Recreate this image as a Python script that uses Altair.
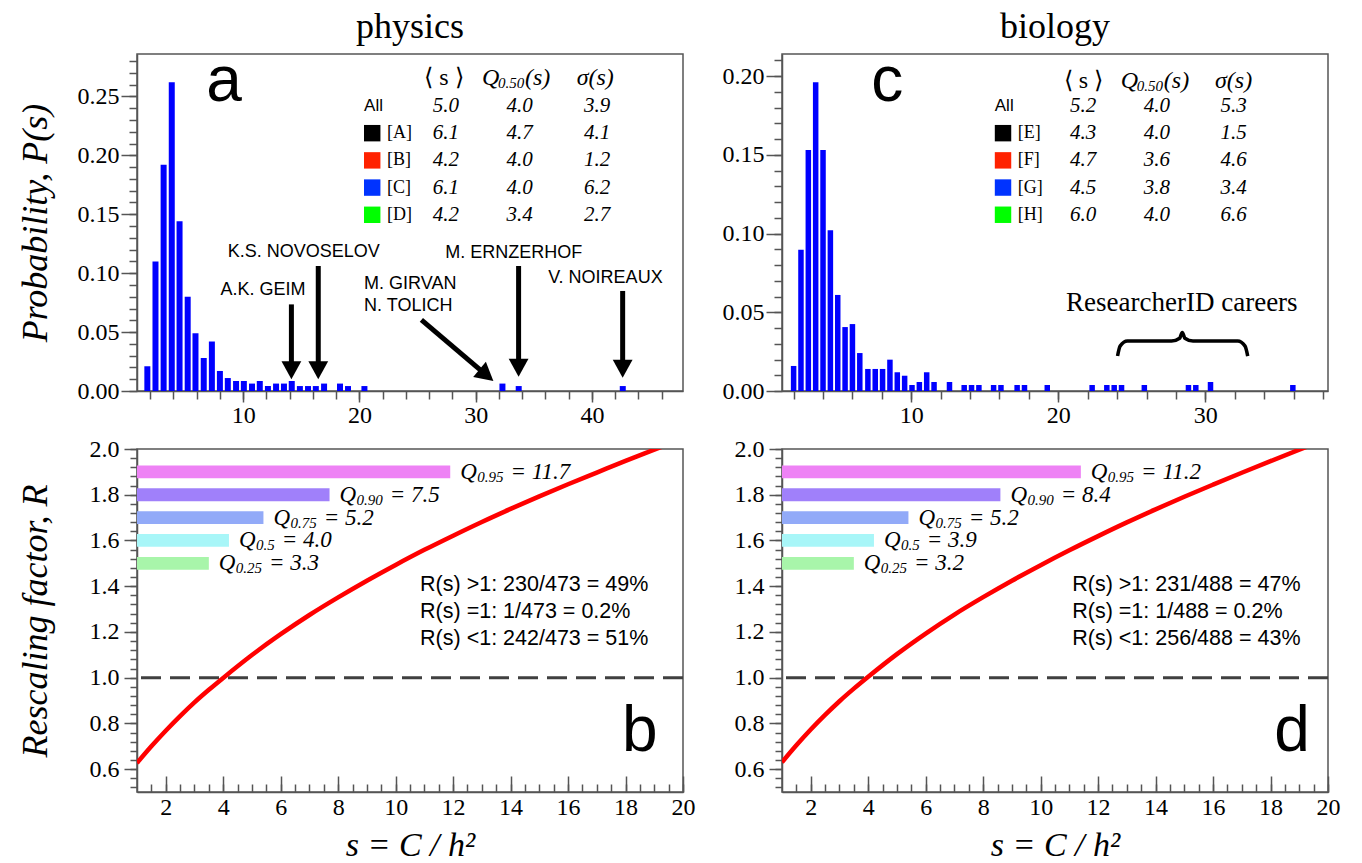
import math
import altair as alt
import numpy as np
import pandas as pd

SERIF = "Liberation Serif"
SANS = "Liberation Sans"

# ---------------- data ----------------
A_S = [1.76, 2.46, 3.16, 3.86, 4.53, 5.23, 5.90, 6.61, 7.31, 8.00,
       8.68, 9.39, 10.06, 10.76, 11.43, 12.13, 12.83, 13.51, 14.18, 14.88,
       15.58, 16.25, 16.96, 18.33, 19.02, 20.43, 32.3, 33.7, 42.65]
A_P = [0.021, 0.110, 0.192, 0.262, 0.144, 0.080, 0.049, 0.028, 0.042, 0.017,
       0.011, 0.0085, 0.0085, 0.0063, 0.0085, 0.0042, 0.0063, 0.0063, 0.0085, 0.0042,
       0.0042, 0.0042, 0.0063, 0.0063, 0.0042, 0.0042, 0.0063, 0.0042, 0.0042]
C_S = [2.0, 2.5, 3.0, 3.5, 4.0, 4.5, 5.0, 5.5, 6.0, 6.5,
       7.05, 7.55, 8.05, 8.55, 9.05, 9.55, 10.05, 10.55, 11.05, 11.55,
       12.6, 13.6, 14.1, 14.6, 15.6, 16.1, 17.2, 17.7, 19.25, 22.3,
       23.3, 23.8, 24.3, 25.85, 28.85, 29.35, 30.35, 35.95]
C_P = [0.0159, 0.0897, 0.153, 0.196, 0.153, 0.102, 0.061, 0.0406, 0.0425, 0.0241,
       0.014, 0.014, 0.014, 0.0199, 0.0119, 0.0097, 0.0038, 0.0057, 0.0119, 0.0057,
       0.0057, 0.0038, 0.0038, 0.0038, 0.0038, 0.0038, 0.0038, 0.0038, 0.0038, 0.0038,
       0.0038, 0.0038, 0.0038, 0.0038, 0.0038, 0.0038, 0.0057, 0.0038]

A_GROUPS = ["All", "[A]", "[B]", "[C]", "[D]"]
A_MEAN = ["5.0", "6.1", "4.2", "6.1", "4.2"]
A_MEDIAN = ["4.0", "4.7", "4.0", "4.0", "3.4"]
A_SIGMA = ["3.9", "4.1", "1.2", "6.2", "2.7"]
C_GROUPS = ["All", "[E]", "[F]", "[G]", "[H]"]
C_MEAN = ["5.2", "4.3", "4.7", "4.5", "6.0"]
C_MEDIAN = ["4.0", "4.0", "3.6", "3.8", "4.0"]
C_SIGMA = ["5.3", "1.5", "4.6", "3.4", "6.6"]
GROUP_COLORS = ["#000000", "#000000", "#FF2200", "#0033FF", "#00FF00"]

NAMES_CENTER = ["A.K. GEIM", "K.S. NOVOSELOV", "M. ERNZERHOF", "V. NOIREAUX"]
NAMES_LEFT = ["M. GIRVAN", "N. TOLICH"]

QUANT_LEVELS = ["0.95", "0.90", "0.75", "0.5", "0.25"]
QUANT_R = [1.9, 1.8, 1.7, 1.6, 1.5]
QUANT_COLORS = ["#EE82F5", "#A080FA", "#92AAF8", "#A8F6F8", "#A8F5AA"]
B_Q_END = [11.9, 7.7, 5.4, 4.2, 3.5]
B_Q_LABEL = ["11.7", "7.5", "5.2", "4.0", "3.3"]
D_Q_END = [11.4, 8.6, 5.4, 4.2, 3.5]
D_Q_LABEL = ["11.2", "8.4", "5.2", "3.9", "3.2"]

CURVE_S = [1, 1.5, 2, 2.5, 3, 3.5, 4, 5, 6, 7, 8, 9, 10, 11, 12, 13, 14, 15, 16, 17, 18, 19, 20]
B_R = [0.627, 0.700, 0.768, 0.832, 0.892, 0.947, 0.999, 1.099, 1.190, 1.274, 1.351, 1.424,
       1.493, 1.559, 1.621, 1.681, 1.738, 1.793, 1.846, 1.897, 1.948, 1.997, 2.046]
D_R = [0.630, 0.704, 0.773, 0.837, 0.897, 0.952, 1.004, 1.103, 1.193, 1.276, 1.352, 1.424,
       1.492, 1.557, 1.619, 1.679, 1.736, 1.791, 1.844, 1.896, 1.947, 1.997, 2.046]

B_STATS = ["R(s) >1: 230/473 = 49%", "R(s) =1: 1/473 = 0.2%", "R(s) <1: 242/473 = 51%"]
D_STATS = ["R(s) >1: 231/488 = 47%", "R(s) =1: 1/488 = 0.2%", "R(s) <1: 256/488 = 43%"]

# ---------------- geometry ----------------
W = 546
HT = 337
HB = 343
A_XDOM = [1.3, 47.4]
A_YDOM = [0.0, 0.286]
C_XDOM = [1.55, 38.0]
C_YDOM = [0.0, 0.214]
B_XDOM = [1.0, 20.0]
B_YDOM = [0.5, 2.0]


def scale(dom):
    return alt.Scale(domain=dom, nice=False, zero=False)


def fl(arr):
    return [float(v) for v in arr]


def minor_axis(values, orient, size, offset=0):
    kw = dict(values=fl(values), orient=orient, tickSize=size, labels=False, domain=False,
              title=None)
    if offset:
        kw["offset"] = offset
    return alt.Axis(**kw)


def major_axis(values, orient, size, pad, fmt, title=None, **extra):
    kw = dict(values=fl(values), orient=orient, tickSize=size, labelPadding=pad, format=fmt,
              labelOverlap=False, labelFlush=False)
    kw["title"] = title if title else None
    kw.update(extra)
    return alt.Axis(**kw)


def ytitle_props(h):
    return dict(titleX=-102, titleY=h / 2, titleAngle=270, titleAlign="center",
                titleBaseline="middle")


def tlayer(xs, ys, texts, sx, sy, **mk):
    df = pd.DataFrame({"x": xs, "y": ys, "t": texts})
    mk.setdefault("color", "black")
    return alt.Chart(df).mark_text(**mk).encode(
        x=alt.X("x:Q", scale=sx, axis=None),
        y=alt.Y("y:Q", scale=sy, axis=None),
        text=alt.Text("t:N"))


def table_layers(groups, means, meds, sds, pos, sx, sy):
    n = len(groups)
    ys = [pos["y0"] - i * pos["step"] for i in range(n)]
    L = []
    L.append(tlayer([pos["x_all"]], [ys[0]], [groups[0]], sx, sy, font=SANS, fontSize=17,
                    align="left", baseline="middle"))
    sq = pd.DataFrame({"x": [pos["x_sq"]] * (n - 1), "y": ys[1:], "c": GROUP_COLORS[1:n]})
    L.append(alt.Chart(sq).mark_point(shape="square", filled=True, size=270, opacity=1).encode(
        x=alt.X("x:Q", scale=sx, axis=None), y=alt.Y("y:Q", scale=sy, axis=None),
        color=alt.Color("c:N", scale=None)))
    L.append(tlayer([pos["x_br"]] * (n - 1), ys[1:], groups[1:], sx, sy, font=SERIF, fontSize=18,
                    align="left", baseline="middle"))
    for key, vals in (("x_mean", means), ("x_med", meds), ("x_sd", sds)):
        L.append(tlayer([pos[key]] * n, ys, vals, sx, sy, font=SERIF, fontSize=21,
                        fontStyle="italic", align="center", baseline="middle"))
    hy = pos["hdr_y"]
    L.append(tlayer([pos["hdr_s"]], [hy], ["⟨ s ⟩"], sx, sy, font=SERIF, fontSize=24,
                    align="center", baseline="middle"))
    L.append(tlayer([pos["hdr_q"]], [hy], ["Q"], sx, sy, font=SERIF, fontSize=24,
                    fontStyle="italic", align="left", baseline="middle"))
    L.append(tlayer([pos["hdr_q"]], [hy], ["0.50"], sx, sy, font=SERIF, fontSize=15, dx=16, dy=5,
                    fontStyle="italic", align="left", baseline="middle"))
    L.append(tlayer([pos["hdr_q"]], [hy], ["(s)"], sx, sy, font=SERIF, fontSize=24, dx=43,
                    fontStyle="italic", align="left", baseline="middle"))
    L.append(tlayer([pos["hdr_sig"]], [hy], ["σ(s)"], sx, sy, font=SERIF, fontSize=24,
                    fontStyle="italic", align="center", baseline="middle"))
    return L


def arrow_layers(arrows, sx, sy, kx, ky):
    rows = []
    for x0, y0, x1, y1 in arrows:
        dxp = (x1 - x0) * kx
        dyp = -(y1 - y0) * ky
        ln = math.hypot(dxp, dyp)
        ux, uy = dxp / ln, dyp / ln
        rows.append(dict(x0=x0, y0=y0, x1=x1, y1=y1,
                         ex=x1 - 10 * ux / kx, ey=y1 + 10 * uy / ky,
                         ang=(math.degrees(math.atan2(dyp, dxp)) - 90) % 360))
    df = pd.DataFrame(rows)
    shaft = alt.Chart(df).mark_rule(color="black", strokeWidth=5).encode(
        x=alt.X("x0:Q", scale=sx, axis=None), y=alt.Y("y0:Q", scale=sy, axis=None),
        x2="ex:Q", y2="ey:Q")
    head = alt.Chart(df).mark_point(shape="M0,0L-0.55,-1L0.55,-1Z", filled=True, size=1296,
                                    color="black", opacity=1).encode(
        x=alt.X("x1:Q", scale=sx, axis=None), y=alt.Y("y1:Q", scale=sy, axis=None),
        angle=alt.Angle("ang:Q", scale=None))
    return [shaft, head]


def hist_panel(s, p, xdom, ydom, xmaj, xmin, ymaj, ymin, ytitle, barsize):
    sx, sy = scale(xdom), scale(ydom)
    df = pd.DataFrame({"s": s, "p": p})
    yextra = ytitle_props(HT) if ytitle else {}
    bars = alt.Chart(df).mark_bar(size=barsize, color="#0000FF", orient="vertical").encode(
        x=alt.X("s:Q", scale=sx, axis=major_axis(xmaj, "bottom", 11, 1, "d")),
        y=alt.Y("p:Q", scale=sy, axis=major_axis(ymaj, "left", 16, 2, ".2f", ytitle, **yextra)))
    carrier = alt.Chart(df).mark_point(opacity=0).encode(
        x=alt.X("s:Q", scale=sx, axis=minor_axis(xmin, "bottom", 8)),
        y=alt.Y("p:Q", scale=sy, axis=minor_axis(ymin, "left", 8)))
    return sx, sy, [bars, carrier]


def panel_title(text):
    return alt.TitleParams(text, frame="group", anchor="middle", baseline="alphabetic",
                           offset=-24, fontSize=36, font=SERIF, fontWeight="normal",
                           color="black")


# ---------------- panel a ----------------
sxa, sya, base_a = hist_panel(A_S, A_P, A_XDOM, A_YDOM, [10, 20, 30, 40], np.arange(2, 47, 2),
                              np.round(np.arange(0, 0.2501, 0.05), 2),
                              np.round(np.arange(0, 0.2801, 0.01), 2), "Probability, P(s)", 6)
kxa = W / (A_XDOM[1] - A_XDOM[0])
kya = HT / (A_YDOM[1] - A_YDOM[0])
tab_a = table_layers(A_GROUPS, A_MEAN, A_MEDIAN, A_SIGMA,
                     dict(x_all=20.4, x_sq=21.1, x_br=22.37, x_mean=27.44, x_med=33.78, x_sd=40.45,
                          hdr_y=0.266, y0=0.2419, step=0.02309, hdr_s=27.27, hdr_q=30.54,
                          hdr_sig=40.28), sxa, sya)
names_c = tlayer([11.71, 15.22, 33.28, 41.16], [0.0856, 0.118, 0.1174, 0.0962], NAMES_CENTER,
                 sxa, sya, font=SANS, fontSize=18, align="center", baseline="middle")
names_l = tlayer([20.4, 20.4], [0.0905, 0.0722], NAMES_LEFT, sxa, sya, font=SANS, fontSize=18,
                 align="left", baseline="middle")
arr_a = arrow_layers([(14.15, 0.0735, 14.15, 0.0099),
                      (16.46, 0.1061, 16.46, 0.0099),
                      (25.33, 0.0603, 31.52, 0.0085),
                      (33.69, 0.1061, 33.69, 0.0121),
                      (42.64, 0.0849, 42.64, 0.0113)], sxa, sya, kxa, kya)
let_a = tlayer([8.35], [0.246], ["a"], sxa, sya, font=SANS, fontSize=64, align="center",
               baseline="alphabetic")
panel_a = alt.layer(*base_a, *tab_a, names_c, names_l, *arr_a, let_a).resolve_axis(
    x="independent", y="independent").properties(width=W, height=HT,
                                                 title=panel_title("physics"))

# ---------------- panel c ----------------
sxc, syc, base_c = hist_panel(C_S, C_P, C_XDOM, C_YDOM, [10, 20, 30], np.arange(2, 39, 2),
                              np.round(np.arange(0, 0.2001, 0.05), 2),
                              np.round(np.arange(0, 0.2101, 0.01), 2), None, 5.5)
tab_c = table_layers(C_GROUPS, C_MEAN, C_MEDIAN, C_SIGMA,
                     dict(x_all=15.68, x_sq=16.24, x_br=17.24, x_mean=21.69, x_med=26.7, x_sd=31.92,
                          hdr_y=0.1968, y0=0.181, step=0.01727, hdr_s=21.71, hdr_q=24.25,
                          hdr_sig=31.92), sxc, syc)
rid = tlayer([28.4], [0.056], ["ResearcherID careers"], sxc, syc, font=SERIF, fontSize=27,
             align="center", baseline="middle")
brace = alt.Chart(pd.DataFrame({
    "x": [24.03, 24.2, 24.7, 27.7, 28.25, 28.43, 28.61, 29.16, 32.2, 32.7, 32.88],
    "y": [0.0222, 0.0285, 0.0317, 0.0317, 0.0335, 0.0372, 0.0335, 0.0317, 0.0317, 0.0285, 0.0222]})
).mark_line(color="black", strokeWidth=3.5, interpolate="monotone").encode(
    x=alt.X("x:Q", scale=sxc, axis=None), y=alt.Y("y:Q", scale=syc, axis=None))
let_c = tlayer([8.36], [0.184], ["c"], sxc, syc, font=SANS, fontSize=64, align="center",
               baseline="alphabetic")
panel_c = alt.layer(*base_c, *tab_c, rid, brace, let_c).resolve_axis(
    x="independent", y="independent").properties(width=W, height=HT,
                                                 title=panel_title("biology"))


# ---------------- panels b, d ----------------
def rescale_panel(q_end, q_label, curve_r, stats, stats_x, letter, letter_x, ytitle):
    sx, sy = scale(B_XDOM), scale(B_YDOM)
    kb = W / (B_XDOM[1] - B_XDOM[0])
    qdf = pd.DataFrame({"lev": QUANT_LEVELS, "end": q_end, "lab": q_label, "r": QUANT_R,
                        "col": QUANT_COLORS})
    rects = alt.Chart(qdf).transform_calculate(
        x0=f"{B_XDOM[0]}", ylo="datum.r - 0.028", yhi="datum.r + 0.028"
    ).mark_rect().encode(
        x=alt.X("x0:Q", scale=sx, axis=None), x2="end:Q",
        y=alt.Y("ylo:Q", scale=sy, axis=None), y2="yhi:Q",
        color=alt.Color("col:N", scale=None))
    base_q = alt.Chart(qdf).transform_calculate(
        q="'Q'", eq="'= ' + datum.lab",
        eqx=f"datum.end + (34 + (length(datum.lev) - 1) * 7.5 + 3.75) / {kb}")
    common = dict(font=SERIF, fontStyle="italic", align="left", baseline="middle", color="black")
    q1 = base_q.mark_text(dx=10, fontSize=23, **common).encode(
        x=alt.X("end:Q", scale=sx, axis=None), y=alt.Y("r:Q", scale=sy, axis=None), text="q:N")
    q2 = base_q.mark_text(dx=27, dy=5, fontSize=15, **common).encode(
        x=alt.X("end:Q", scale=sx, axis=None), y=alt.Y("r:Q", scale=sy, axis=None), text="lev:N")
    q3 = base_q.mark_text(fontSize=23, **common).encode(
        x=alt.X("eqx:Q", scale=sx, axis=None), y=alt.Y("r:Q", scale=sy, axis=None), text="eq:N")
    dash = alt.Chart(pd.DataFrame({"y": [1.0]})).mark_rule(
        color="#404040", strokeWidth=3, strokeDash=[20, 9]).encode(
        y=alt.Y("y:Q", scale=sy, axis=None))
    cdf = pd.DataFrame({"s": CURVE_S, "r": curve_r})
    yextra = ytitle_props(HB) if ytitle else {}
    curve = alt.Chart(cdf).mark_line(
        color="#FF0000", strokeWidth=4.5, clip=True, interpolate="monotone").encode(
        x=alt.X("s:Q", scale=sx, axis=major_axis(
            np.arange(2, 21, 2), "bottom", 0, 3, "d", "s = C / h²", ticks=False,
            titleX=W / 2, titleY=53, titleAlign="center", titleBaseline="middle",
            titleFontSize=34)),
        y=alt.Y("r:Q", scale=sy, axis=major_axis(
            np.round(np.arange(0.6, 2.001, 0.2), 1), "left", 13, 5, ".1f", ytitle, **yextra)))
    carrier1 = alt.Chart(cdf).mark_point(opacity=0).encode(
        x=alt.X("s:Q", scale=sx, axis=minor_axis(np.arange(2, 21, 2), "top", 16, offset=-HB)),
        y=alt.Y("r:Q", scale=sy, axis=minor_axis(np.round(np.arange(0.52, 2.001, 0.04), 2),
                                                 "left", 7)))
    carrier2 = alt.Chart(cdf).mark_point(opacity=0).encode(
        x=alt.X("s:Q", scale=sx, axis=minor_axis(np.arange(1.5, 20.01, 0.5), "top", 8,
                                                 offset=-HB)),
        y=alt.Y("r:Q", scale=sy, axis=None))
    st = tlayer([stats_x] * 3, [1.404, 1.285, 1.167], stats, sx, sy, font=SANS,
                fontSize=21.5, align="left", baseline="middle")
    let = tlayer([letter_x], [0.678], [letter], sx, sy, font=SANS, fontSize=64, align="center",
                 baseline="alphabetic")
    return alt.layer(rects, dash, curve, carrier1, carrier2, q1, q2, q3, st, let).resolve_axis(
        x="independent", y="independent").properties(width=W, height=HB)


panel_b = rescale_panel(B_Q_END, B_Q_LABEL, B_R, B_STATS, 10.85, "b", 18.5,
                        "Rescaling factor, R")
panel_d = rescale_panel(D_Q_END, D_Q_LABEL, D_R, D_STATS, 11.1, "d", 18.75, None)

chart = alt.concat(panel_a, panel_c, panel_b, panel_d, columns=2,
                   spacing={"row": 58, "column": 99}, bounds="flush").properties(
    padding={"left": 8, "top": 0, "right": 5, "bottom": 0}
).configure_view(stroke="#555555", strokeWidth=1.5).configure_axis(
    grid=False, labelFont=SERIF, labelFontSize=24, labelColor="black",
    tickColor="#555555", tickWidth=1.5, domainColor="#555555", domainWidth=1.5,
    titleFont=SERIF, titleFontSize=36, titleFontStyle="italic", titleFontWeight="normal",
    titleColor="black")

chart.save("out.html", embed_options={"renderer": "svg", "actions": False})
